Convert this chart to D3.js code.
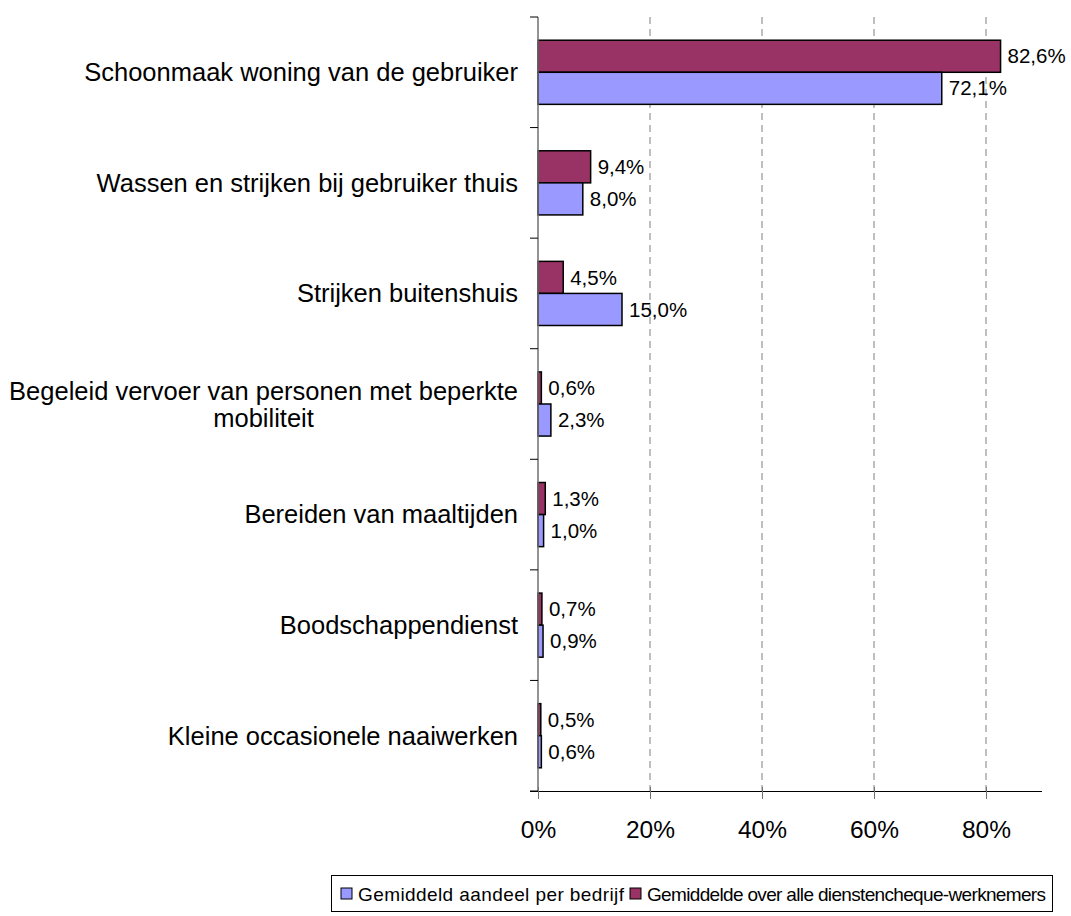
<!DOCTYPE html>
<html>
<head>
<meta charset="utf-8">
<script src="https://cdn.jsdelivr.net/npm/d3@7"></script>
<style>
  body { margin: 0; background: #fff; }
  text { font-family: "Liberation Sans", Arial, sans-serif; fill: #000; }
</style>
</head>
<body>
<svg id="chart" width="1071" height="916"></svg>
<script>
const categories = [
  "Schoonmaak woning van de gebruiker",
  "Wassen en strijken bij gebruiker thuis",
  "Strijken buitenshuis",
  "Begeleid vervoer van personen met beperkte mobiliteit",
  "Bereiden van maaltijden",
  "Boodschappendienst",
  "Kleine occasionele naaiwerken"
];
const seriesNames = ["Gemiddeld aandeel per bedrijf", "Gemiddelde over alle dienstencheque-werknemers"];
const perBedrijf = [72.1, 8.0, 15.0, 2.3, 1.0, 0.9, 0.6];
const alleWerknemers = [82.6, 9.4, 4.5, 0.6, 1.3, 0.7, 0.5];
const xTicks = [0, 20, 40, 60, 80];
const colors = ["#9999FF", "#993366"];

const svg = d3.select("#chart");
const mLeft = 538, mRight = 1042, mTop = 17, mBottom = 791;
const catFont = 25.5, valFont = 20.5, tickFont = 24.5, legFont = 19;
const legendTextWidths = [266, 399];

const x = d3.scaleLinear().domain([0, 90]).range([mLeft, mRight]);
const y = d3.scaleBand().domain(categories).range([mTop, mBottom]).paddingInner(0.42).paddingOuter(0.21);
const y1 = d3.scaleBand().domain(["purple", "blue"]).range([0, y.bandwidth()]);

const loc = d3.formatLocale({decimal: ",", thousands: ".", grouping: [3], currency: ["", "€"]});
const fmt = v => loc.format(".1f")(v) + "%";

// gridlines
svg.append("g").selectAll("line").data(xTicks.filter(d => d > 0)).join("line")
  .attr("x1", d => x(d)).attr("x2", d => x(d))
  .attr("y1", mTop).attr("y2", mBottom)
  .attr("stroke", "#808080").attr("stroke-width", 1).attr("stroke-dasharray", "7,5");

// bars
const groups = svg.append("g").selectAll("g").data(categories).join("g")
  .attr("transform", d => `translate(0,${y(d)})`);

groups.append("rect")
  .attr("x", x(0)).attr("y", y1("purple"))
  .attr("width", (d, i) => x(alleWerknemers[i]) - x(0))
  .attr("height", y1.bandwidth())
  .attr("fill", colors[1]).attr("stroke", "#000").attr("stroke-width", 1.5);
groups.append("rect")
  .attr("x", x(0)).attr("y", y1("blue"))
  .attr("width", (d, i) => x(perBedrijf[i]) - x(0))
  .attr("height", y1.bandwidth())
  .attr("fill", colors[0]).attr("stroke", "#000").attr("stroke-width", 1.5);

groups.append("text")
  .attr("x", (d, i) => x(alleWerknemers[i]) + 7)
  .attr("y", y1("purple") + y1.bandwidth() / 2)
  .attr("dy", "0.35em").attr("font-size", valFont)
  .text((d, i) => fmt(alleWerknemers[i]));
groups.append("text")
  .attr("x", (d, i) => x(perBedrijf[i]) + 7)
  .attr("y", y1("blue") + y1.bandwidth() / 2)
  .attr("dy", "0.35em").attr("font-size", valFont)
  .text((d, i) => fmt(perBedrijf[i]));

// y axis
const yAxisG = svg.append("g");
yAxisG.append("line").attr("x1", mLeft).attr("x2", mLeft).attr("y1", mTop).attr("y2", mBottom)
  .attr("stroke", "#707070").attr("stroke-width", 1.5);
const bounds = d3.range(categories.length + 1).map(i => mTop + i * (mBottom - mTop) / categories.length);
yAxisG.selectAll("line.t").data(bounds).join("line").attr("class", "t")
  .attr("x1", mLeft - 8).attr("x2", mLeft).attr("y1", d => d).attr("y2", d => d)
  .attr("stroke", "#000").attr("stroke-width", 1);

// category labels
const labelRight = 518;
categories.forEach(c => {
  const cy = y(c) + y.bandwidth() / 2;
  if (c.startsWith("Begeleid")) {
    const l1 = "Begeleid vervoer van personen met beperkte", l2 = "mobiliteit";
    const t1 = svg.append("text").attr("x", labelRight).attr("y", cy - 13).attr("dy", "0.35em")
      .attr("font-size", catFont).attr("text-anchor", "end").text(l1);
    const w = t1.node().getComputedTextLength();
    svg.append("text").attr("x", labelRight - w / 2).attr("y", cy + 14).attr("dy", "0.35em")
      .attr("font-size", catFont).attr("text-anchor", "middle").text(l2);
  } else {
    svg.append("text").attr("x", labelRight).attr("y", cy).attr("dy", "0.35em")
      .attr("font-size", catFont).attr("text-anchor", "end").text(c);
  }
});

// x axis
const xAxis = d3.axisBottom(x).tickValues(xTicks).tickFormat(d => d + "%").tickSize(8).tickPadding(22);
const xg = svg.append("g").attr("transform", `translate(0,${mBottom})`).call(xAxis);
xg.select(".domain").attr("stroke", "#000").attr("d", `M${mLeft - 8},0.5H${mRight}`);
xg.selectAll(".tick line").attr("stroke", "#707070").attr("y1", -4).attr("y2", 8);
xg.selectAll(".tick text").attr("font-size", tickFont).attr("fill", "#000")
  .style("font-family", '"Liberation Sans", Arial, sans-serif');

// legend
const lg = svg.append("g");
lg.append("rect").attr("x", 331.5).attr("y", 875.5).attr("width", 721).attr("height", 36)
  .attr("fill", "#fff").attr("stroke", "#000").attr("stroke-width", 1);
let lx = 341;
seriesNames.forEach((s, i) => {
  lg.append("rect").attr("x", lx).attr("y", 888).attr("width", 11).attr("height", 11)
    .attr("fill", colors[i]).attr("stroke", "#000").attr("stroke-width", 1);
  lg.append("text").attr("x", lx + 17).attr("y", 894).attr("dy", "0.35em")
    .attr("font-size", legFont)
    .attr("textLength", legendTextWidths[i]).attr("lengthAdjust", "spacing")
    .text(s);
  lx += 17 + legendTextWidths[i] + 6;
});
</script>
</body>
</html>
